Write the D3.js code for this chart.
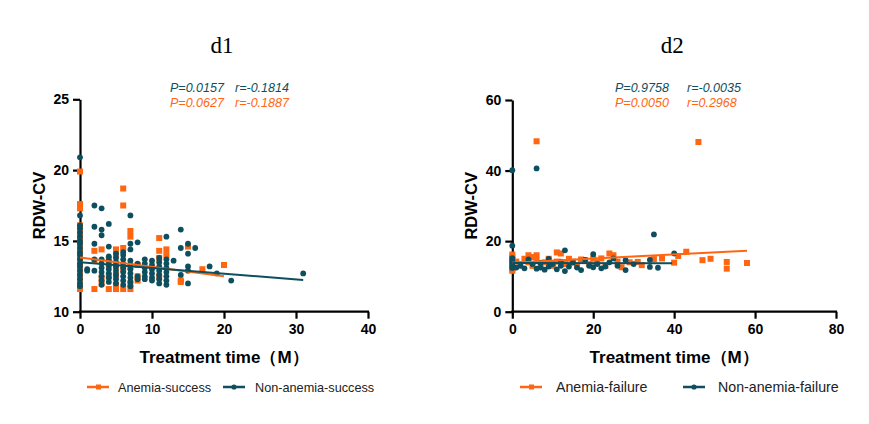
<!DOCTYPE html>
<html><head><meta charset="utf-8">
<script src="https://cdn.jsdelivr.net/npm/d3@7"></script>
<style>body{margin:0;background:#fff}svg{display:block}</style>
</head><body>
<svg id="c" width="869" height="424"></svg>
<script>
// ---- data ----
const ORANGE = "#ff6611", TEAL = "#0d4f5f";
// d1: columns of [month, values...]
const d1AnemiaCols = [
  [0,[19.9,17.6,17.4,17.3,16.1,15.9,15.6,15.2,14.8,14.4,14.0,13.6,13.2,12.8,12.4,12.0,11.6]],
  [2,[14.3,13.6,11.6]],[3,[14.4,12.4,12.0]],[4,[13.7,13.3,12.5,11.6]],
  [5,[14.4,14.0,13.2,12.6,11.9,11.6]],[6,[18.7,17.5,14.5,13.0,11.6]],
  [7,[15.7,15.3,13.2,12.0,11.6]],[8,[13.3,12.5,12.2]],[11,[15.2,14.3,13.8,12.5]],
  [12,[14.4,14.0]],[14,[12.2,12.1]],[15,[14.6]],[17,[13.0]],[20,[13.3]]
];
const d1NonAnemiaCols = [
  [0,[20.9,16.8,16.1,15.9,15.6,15.3,15.0,14.8,14.5,14.2,14.0,13.7,13.4,13.2,12.9,12.6,12.3,12.0,11.8]],
  [1,[13.0,12.9]],[2,[17.5,16.0,14.8,13.7,12.9]],
  [3,[17.3,15.8,15.4,13.7,13.4,13.1,12.8,12.5,12.2,11.9]],
  [4,[16.2,14.6,13.9,13.6,13.3,13.0,12.7,12.4,12.1]],
  [5,[14.1,13.8,13.5,13.2,12.9,12.6,12.3,12.0]],
  [6,[14.2,14.0,13.7,13.4,13.1,12.8,12.5,12.2,11.9]],
  [7,[16.8,14.8,14.4,13.6,13.3,13.0,12.7,12.4,12.1,11.8]],
  [8,[14.9,13.4,12.5,12.3]],[9,[13.7,13.4,13.1,12.8,12.5,12.3]],
  [10,[13.6,13.3,13.0,12.7,12.4,12.2]],[11,[13.8,13.5,13.2,12.9,12.6,12.3,12.0]],
  [12,[15.3,13.7,13.4,13.1,12.8,12.5,12.2,11.9]],[13,[13.6]],[14,[15.8,14.5,12.6]],
  [15,[14.8,14.1,13.2,12.9,12.0]],[16,[14.5]],[18,[13.2]],[19,[12.7]],[21,[12.2]],[31,[12.7]]
];
const d1FitAnemia = [[0,13.82],[20,12.5]];
const d1FitNonAnemia = [[0,13.5],[31,12.24]];

const d2Anemia = [
  [0,16.2],[0,15.5],[0,15.0],[0,14.5],[0,14.0],[0,13.5],[0,13.0],[0,12.5],[0,12.0],[0,11.6],
  [1,14.2],[2,13.5],[3,15.0],[4,14.0],[4,16.0],[5,15.5],[5,13.0],[6,48.3],[6,16.0],[6,14.5],
  [7,12.8],[8,14.0],[9,15.0],[10,13.0],[11,16.8],[11,14.2],[12,16.5],[13,13.5],[14,15.0],
  [15,14.2],[16,13.0],[17,14.8],[18,14.6],[19,13.5],[20,15.0],[21,14.0],[22,15.1],[23,13.0],
  [24,16.5],[25,16.0],[26,14.2],[27,12.6],[29,14.0],[31,14.1],[32,13.2],[35,14.9],[37,15.1],
  [40,13.9],[41,15.8],[43,17.0],[46,48.1],[47,14.6],[49,15.0],[53,14.1],[53,12.2],[58,13.8]
];
const d2NonAnemia = [
  [0,40.1],[0,18.7],[0,15.2],[0,14.5],[0,13.8],[0,13.0],[0,12.4],[1,12.5],[2,13.0],[3,12.3],
  [4,14.8],[5,13.5],[6,40.6],[6,12.2],[7,13.8],[7,12.5],[8,11.9],[9,15.0],[9,12.8],[10,13.5],
  [11,12.0],[12,14.2],[12,13.0],[13,17.4],[13,11.5],[14,12.8],[15,13.9],[16,12.5],[17,11.8],
  [18,14.7],[19,13.0],[20,16.3],[20,12.6],[21,13.5],[22,12.3],[23,12.8],[24,14.0],[25,15.1],
  [26,13.0],[28,14.6],[28,11.8],[30,13.5],[34,14.7],[34,12.7],[35,21.9],[36,12.45],[40,16.5]
];
const d2FitAnemia = [[0,13.9],[58,17.3]];
const d2FitNonAnemia = [[0,13.8],[39.5,13.7]];

const d1XTicks = [0,10,20,30,40], d1YTicks = [10,15,20,25];
const d2XTicks = [0,20,40,60,80], d2YTicks = [0,20,40,60];

const panels = [
  {title:"d1", xDom:[0,40], yDom:[10,25], xR:[80,368], yR:[311.7,99.3], xT:d1XTicks, yT:d1YTicks,
   anemia:d1AnemiaCols.flatMap(([t,vs])=>vs.map(v=>[t,v])),
   non:d1NonAnemiaCols.flatMap(([t,vs])=>vs.map(v=>[t,v])),
   fitA:d1FitAnemia, fitN:d1FitNonAnemia,
   statN:["P=0.0157","r=-0.1814"], statA:["P=0.0627","r=-0.1887"], statX:[170,235],
   legA:"Anemia-success", legN:"Non-anemia-success", legX:[87,118,223,255], legF:12.7},
  {title:"d2", xDom:[0,80], yDom:[0,60], xR:[512.3,836], yR:[311.7,100], xT:d2XTicks, yT:d2YTicks,
   anemia:d2Anemia, non:d2NonAnemia, fitA:d2FitAnemia, fitN:d2FitNonAnemia,
   statN:["P=0.9758","r=-0.0035"], statA:["P=0.0050","r=0.2968"], statX:[615,687],
   legA:"Anemia-failure", legN:"Non-anemia-failure", legX:[520,556,683,718], legF:14.2}
];

const svg = d3.select("#c");
const FONT = "'Liberation Sans', Arial, sans-serif";

panels.forEach(p=>{
  const x = d3.scaleLinear().domain(p.xDom).range(p.xR);
  const y = d3.scaleLinear().domain(p.yDom).range(p.yR);
  const g = svg.append("g");
  const cx = (p.xR[0]+p.xR[1])/2;

  g.append("text").attr("x",cx-2).attr("y",53).attr("text-anchor","middle")
    .attr("font-family","'Liberation Serif','Times New Roman',serif").attr("font-size",23)
    .attr("fill","#000").text(p.title);

  // axes
  const xa = g.append("g").attr("transform",`translate(0,${p.yR[0]})`)
    .call(d3.axisBottom(x).tickValues(p.xT).tickSize(7).tickPadding(5).tickSizeOuter(0));
  const ya = g.append("g").attr("transform",`translate(${p.xR[0]},0)`)
    .call(d3.axisLeft(y).tickValues(p.yT).tickSize(7).tickPadding(4).tickSizeOuter(0));
  [xa,ya].forEach(a=>{
    a.selectAll("path,line").attr("stroke","#000").attr("stroke-width",2.2);
    a.selectAll("text").attr("font-family",FONT).attr("font-weight","bold")
      .attr("font-size",14).attr("fill","#000");
  });
  xa.select("path").attr("d",`M${p.xR[0]-1},0H${p.xR[1]+1}`);

  g.append("text").attr("x",cx).attr("y",363).attr("text-anchor","middle")
    .attr("font-family",FONT).attr("font-weight","bold").attr("font-size",17)
    .text("Treatment time（M）");
  g.append("text").attr("transform",`translate(${p.xR[0]-35},${(p.yR[0]+p.yR[1])/2}) rotate(-90)`)
    .attr("text-anchor","middle").attr("font-family",FONT).attr("font-weight","bold")
    .attr("font-size",16.5).text("RDW-CV");

  // points
  g.append("g").selectAll("rect").data(p.anemia).join("rect")
    .attr("x",d=>x(d[0])-3).attr("y",d=>y(d[1])-3).attr("width",6).attr("height",6)
    .attr("fill",ORANGE);
  g.append("g").selectAll("circle").data(p.non).join("circle")
    .attr("cx",d=>x(d[0])).attr("cy",d=>y(d[1])).attr("r",2.9).attr("fill",TEAL);

  const line = d3.line().x(d=>x(d[0])).y(d=>y(d[1]));
  g.append("path").attr("d",line(p.fitA)).attr("stroke",ORANGE).attr("stroke-width",2).attr("fill","none");
  g.append("path").attr("d",line(p.fitN)).attr("stroke",TEAL).attr("stroke-width",2).attr("fill","none");

  // stats
  [[p.statN,TEAL,92],[p.statA,ORANGE,107]].forEach(([s,c,yy])=>{
    s.forEach((t,i)=>g.append("text").attr("x",p.statX[i]).attr("y",yy)
      .attr("font-family",FONT).attr("font-style","italic").attr("font-size",12.5)
      .attr("fill",c).text(t));
  });

  // legend
  const ly = 387;
  [[p.legA,ORANGE,0,"sq"],[p.legN,TEAL,2,"ci"]].forEach(([lab,c,k,m])=>{
    const x0 = p.legX[k];
    g.append("line").attr("x1",x0).attr("x2",x0+22).attr("y1",ly).attr("y2",ly)
      .attr("stroke",c).attr("stroke-width",2.5);
    if(m==="sq") g.append("rect").attr("x",x0+9).attr("y",ly-2.5).attr("width",5).attr("height",5).attr("fill",c);
    else g.append("circle").attr("cx",x0+11).attr("cy",ly).attr("r",2.6).attr("fill",c);
    g.append("text").attr("x",p.legX[k+1]).attr("y",ly+5).attr("font-family",FONT)
      .attr("font-size",p.legF).attr("fill","#222").text(lab);
  });
});
</script>
</body></html>
